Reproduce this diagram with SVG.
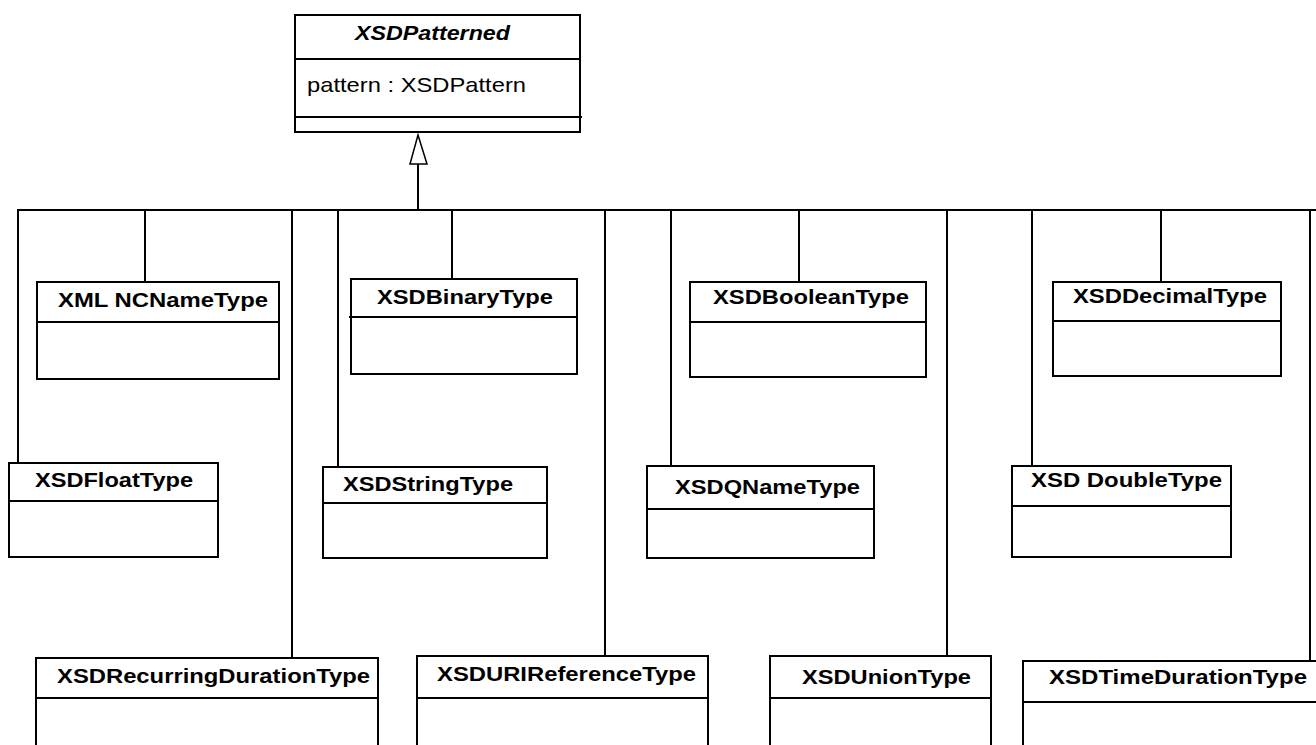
<svg xmlns="http://www.w3.org/2000/svg" width="1316" height="745" viewBox="0 0 1316 745">
<style>
.box{fill:#fff;stroke:#000;stroke-width:2}
.ln{stroke:#000;stroke-width:2;fill:none}
.t{font-family:"Liberation Sans",Arial,sans-serif;font-size:21px;font-weight:bold;fill:#000}
.a{font-family:"Liberation Sans",Arial,sans-serif;font-size:21px;fill:#000}
</style>
<rect width="1316" height="745" fill="#fff"/>
<g id="connectors">
<line class="ln" x1="17" y1="210" x2="1316" y2="210"/>
<line class="ln" x1="418" y1="164" x2="418" y2="210"/>
<polygon points="418,135 410,164 427,164" fill="#fff" stroke="#000" stroke-width="1.5"/>
<line class="ln" x1="18" y1="210" x2="18" y2="463"/>
<line class="ln" x1="145" y1="210" x2="145" y2="282"/>
<line class="ln" x1="292" y1="210" x2="292" y2="658"/>
<line class="ln" x1="338" y1="210" x2="338" y2="467"/>
<line class="ln" x1="452" y1="210" x2="452" y2="279"/>
<line class="ln" x1="605" y1="210" x2="605" y2="656"/>
<line class="ln" x1="671" y1="210" x2="671" y2="466"/>
<line class="ln" x1="799" y1="210" x2="799" y2="282"/>
<line class="ln" x1="947" y1="210" x2="947" y2="656"/>
<line class="ln" x1="1032" y1="210" x2="1032" y2="466"/>
<line class="ln" x1="1161" y1="210" x2="1161" y2="282"/>
<line class="ln" x1="1310" y1="210" x2="1310" y2="661"/>
</g>
<g id="XSDPatterned">
<rect class="box" x="295" y="15" width="285" height="117"/>
<line class="ln" x1="295" y1="59" x2="580" y2="59"/>
<line class="ln" x1="295" y1="117" x2="582" y2="117"/>
<text class="t" font-style="italic" x="355" y="40" textLength="155" lengthAdjust="spacingAndGlyphs">XSDPatterned</text>
<text class="a" x="307" y="92" textLength="219" lengthAdjust="spacingAndGlyphs">pattern : XSDPattern</text>
</g>
<g id="XMLNCNameType">
<rect class="box" x="37" y="282" width="242" height="97"/>
<line class="ln" x1="37" y1="322" x2="279" y2="322"/>
<text class="t" x="58" y="307" textLength="210" lengthAdjust="spacingAndGlyphs">XML NCNameType</text>
</g>
<g id="XSDBinaryType">
<rect class="box" x="351" y="279" width="226" height="95"/>
<line class="ln" x1="349" y1="317" x2="577" y2="317"/>
<text class="t" x="377" y="304" textLength="176" lengthAdjust="spacingAndGlyphs">XSDBinaryType</text>
</g>
<g id="XSDBooleanType">
<rect class="box" x="690" y="282" width="236" height="95"/>
<line class="ln" x1="690" y1="322" x2="926" y2="322"/>
<text class="t" x="713" y="304" textLength="196" lengthAdjust="spacingAndGlyphs">XSDBooleanType</text>
</g>
<g id="XSDDecimalType">
<rect class="box" x="1053" y="282" width="228" height="94"/>
<line class="ln" x1="1053" y1="321" x2="1281" y2="321"/>
<text class="t" x="1073" y="303" textLength="194" lengthAdjust="spacingAndGlyphs">XSDDecimalType</text>
</g>
<g id="XSDFloatType">
<rect class="box" x="9" y="463" width="209" height="94"/>
<line class="ln" x1="9" y1="501" x2="218" y2="501"/>
<text class="t" x="35" y="487" textLength="158" lengthAdjust="spacingAndGlyphs">XSDFloatType</text>
</g>
<g id="XSDStringType">
<rect class="box" x="323" y="467" width="224" height="91"/>
<line class="ln" x1="323" y1="503" x2="547" y2="503"/>
<text class="t" x="343" y="491" textLength="170" lengthAdjust="spacingAndGlyphs">XSDStringType</text>
</g>
<g id="XSDQNameType">
<rect class="box" x="647" y="466" width="227" height="92"/>
<line class="ln" x1="647" y1="509" x2="874" y2="509"/>
<text class="t" x="675" y="494" textLength="185" lengthAdjust="spacingAndGlyphs">XSDQNameType</text>
</g>
<g id="XSDDoubleType">
<rect class="box" x="1012" y="466" width="219" height="91"/>
<line class="ln" x1="1012" y1="506" x2="1231" y2="506"/>
<text class="t" x="1031" y="487" textLength="191" lengthAdjust="spacingAndGlyphs">XSD DoubleType</text>
</g>
<g id="XSDRecurringDurationType">
<rect class="box" x="36" y="658" width="342" height="110"/>
<line class="ln" x1="36" y1="698" x2="378" y2="698"/>
<text class="t" x="57" y="683" textLength="313" lengthAdjust="spacingAndGlyphs">XSDRecurringDurationType</text>
</g>
<g id="XSDURIReferenceType">
<rect class="box" x="417" y="656" width="291" height="110"/>
<line class="ln" x1="417" y1="698" x2="708" y2="698"/>
<text class="t" x="437" y="681" textLength="259" lengthAdjust="spacingAndGlyphs">XSDURIReferenceType</text>
</g>
<g id="XSDUnionType">
<rect class="box" x="770" y="656" width="221" height="110"/>
<line class="ln" x1="770" y1="698" x2="991" y2="698"/>
<text class="t" x="802" y="684" textLength="169" lengthAdjust="spacingAndGlyphs">XSDUnionType</text>
</g>
<g id="XSDTimeDurationType">
<rect class="box" x="1023" y="661" width="310" height="110"/>
<line class="ln" x1="1023" y1="702" x2="1333" y2="702"/>
<text class="t" x="1049" y="684" textLength="258" lengthAdjust="spacingAndGlyphs">XSDTimeDurationType</text>
</g>
</svg>
